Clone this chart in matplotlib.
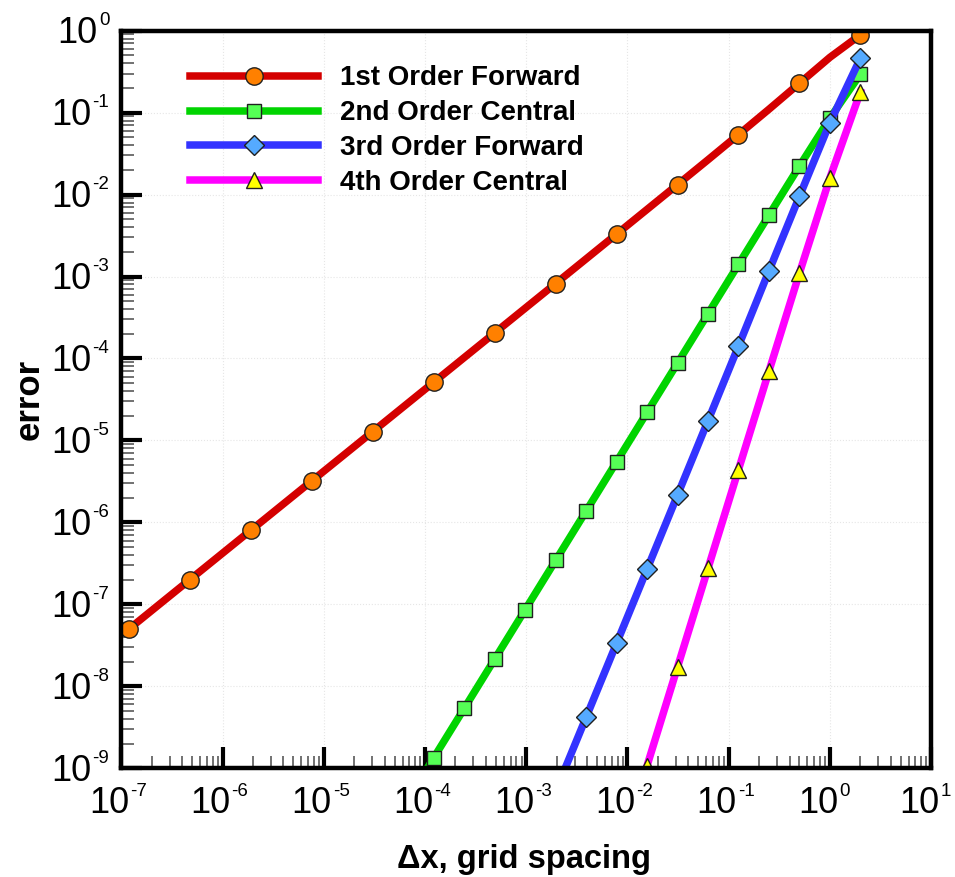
import numpy as np
import matplotlib
matplotlib.use('Agg')
import matplotlib.pyplot as plt
from matplotlib.ticker import LogLocator, NullFormatter

plt.rcParams['font.family'] = ['Liberation Sans', 'DejaVu Sans']

# grid spacing, halving each step
dx = [2, 1, 0.5, 0.25, 0.125, 6.25e-2, 3.125e-2, 1.5625e-2, 7.8125e-3,
      3.906e-3, 1.953e-3, 9.766e-4, 4.883e-4, 2.441e-4, 1.221e-4, 6.104e-5,
      3.052e-5, 1.526e-5, 7.629e-6, 3.815e-6, 1.907e-6, 9.537e-7, 4.768e-7,
      2.384e-7, 1.192e-7]

err1 = [0.890, 0.473, 0.228, 0.110, 0.0539, 0.0266, 0.01323, 6.596e-3,
        3.292e-3, 1.6434e-3, 8.216e-4, 4.108e-4, 2.054e-4, 1.027e-4, 5.134e-5,
        2.567e-5, 1.2835e-5, 6.418e-6, 3.209e-6, 1.604e-6, 8.02e-7, 4.01e-7,
        2.006e-7, 1.003e-7, 5.01e-8]
err2 = [0.2946, 0.0857, 0.02223, 5.611e-3, 1.406e-3, 3.518e-4, 8.794e-5,
        2.199e-5, 5.496e-6, 1.374e-6, 3.435e-7, 8.588e-8, 2.147e-8, 5.367e-9,
        1.342e-9, 3.355e-10]
err3 = [0.46, 0.0753, 9.51e-3, 1.17e-3, 1.416e-4, 1.741e-5, 2.158e-6,
        2.686e-7, 3.350e-8, 4.180e-9, 5.224e-10]
err4 = [0.1787, 0.0160, 1.099e-3, 7.0e-5, 4.397e-6, 2.748e-7, 1.7175e-8,
        1.0734e-9, 6.71e-11]

labels = ['1st Order Forward', '2nd Order Central',
          '3rd Order Forward', '4th Order Central']

x_exps = [-7, -6, -5, -4, -3, -2, -1, 0, 1]
y_exps = [-9, -8, -7, -6, -5, -4, -3, -2, -1, 0]

PX = 0.72  # points per pixel at dpi 100

fig = plt.figure(figsize=(9.55, 8.77), dpi=100)
ax = fig.add_axes([0.127, 0.124, 0.848, 0.841])

ax.plot(dx[:len(err1)], err1, color='#d40000', lw=5.4, marker='o', ms=12.5,
        mfc='#ff8000', mec='#202020', mew=1, markevery=2, label=labels[0])
ax.plot(dx[:len(err2)], err2, color='#00d400', lw=5.4, marker='s', ms=9.4,
        mfc='#55ff55', mec='#202020', mew=1, label=labels[1])
ax.plot(dx[:len(err3)], err3, color='#3333ff', lw=5.4, marker='D', ms=10.2,
        mfc='#55aaff', mec='#202020', mew=1, label=labels[2])
ax.plot(dx[:len(err4)], err4, color='#ff00ff', lw=5.4, marker='^', ms=11.5,
        mfc='#ffff00', mec='#202020', mew=1, label=labels[3])

ax.set_xscale('log')
ax.set_yscale('log')
ax.set_xlim(1e-7, 1e1)
ax.set_ylim(1e-9, 1e0)

for a in (ax.xaxis, ax.yaxis):
    a.set_major_locator(LogLocator(base=10, numticks=20))
    a.set_minor_locator(LogLocator(base=10, subs=np.arange(2, 10), numticks=20))
    a.set_major_formatter(NullFormatter())
    a.set_minor_formatter(NullFormatter())

ax.tick_params(which='major', direction='in', length=15, width=3,
               top=False, right=False)
ax.tick_params(which='minor', direction='in', length=9, width=1.3,
               color='#666666', top=False, right=False)
for s in ax.spines.values():
    s.set_linewidth(3.2)

ax.grid(True, which='major', color='#e6e6e6', linestyle=':', linewidth=0.8)

# tick labels: "10" with a small raised exponent
for e in x_exps:
    base = ax.annotate('10', xy=(10.0 ** e, 0), xycoords=ax.get_xaxis_transform(),
                       xytext=(8 * PX, -45 * PX), textcoords='offset points',
                       ha='right', va='baseline', fontsize=26)
    ax.annotate(str(e), xy=(1, 0), xycoords=base,
                xytext=(1 * PX, 25 * PX), textcoords='offset points',
                ha='left', va='baseline', fontsize=13.5)

for e in y_exps:
    sup = ax.annotate(str(e), xy=(0, 10.0 ** e), xycoords=ax.get_yaxis_transform(),
                      xytext=(-12 * PX, 5.5 * PX), textcoords='offset points',
                      ha='right', va='baseline', fontsize=13.5)
    ax.annotate('10', xy=(0, 0), xycoords=sup,
                xytext=(-1 * PX, -14.1 * PX), textcoords='offset points',
                ha='right', va='baseline', fontsize=26)

ax.set_xlabel('Δx, grid spacing', fontsize=23.5, fontweight='bold')
ax.xaxis.set_label_coords(0.4975, -0.103)
ax.set_ylabel('error', fontsize=25, fontweight='bold')
ax.yaxis.set_label_coords(-0.094, 0.5)

leg = ax.legend(loc='upper left', bbox_to_anchor=(0.0716, 0.968), frameon=False,
                fontsize=20, handlelength=4.6, handletextpad=0.78,
                labelspacing=0.32, borderaxespad=0)
for t in leg.get_texts():
    t.set_fontweight('bold')

fig.savefig('out.png', dpi=100)
